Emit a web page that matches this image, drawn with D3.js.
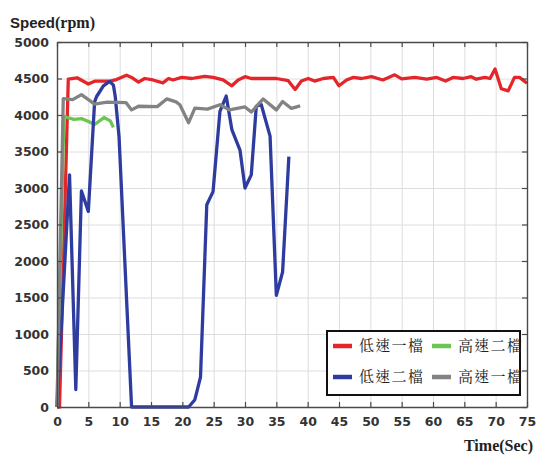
<!DOCTYPE html>
<html>
<head>
<meta charset="utf-8">
<script src="https://cdn.jsdelivr.net/npm/d3@7"></script>
<style>
  body { margin: 0; background: #fff; }
  svg { display: block; }
</style>
</head>
<body>
<div id="chart"></div>
<script>
// series data: time (sec) and speed (rpm)
const redTime = [0, 0.4, 1.8, 3.2, 5, 6.1, 8.5, 9.3, 11.1, 11.9, 13, 14, 15.3, 16.9, 17.8, 18.5, 19.9, 21.5, 22.8, 23.6, 24.9, 26.5, 27.9, 28.9, 30, 31, 35, 36.9, 38, 39, 40.1, 41.1, 42.5, 44.1, 45, 46.2, 47.3, 48.6, 50.2, 52, 53.9, 55, 57.1, 59, 60.6, 62, 63.2, 64.8, 66.1, 66.9, 68.3, 69.1, 69.9, 70.9, 72, 73, 73.8, 75];
const redRpm = [0, 0, 4490, 4510, 4425, 4465, 4465, 4480, 4545, 4515, 4450, 4500, 4480, 4440, 4500, 4480, 4515, 4500, 4520, 4530, 4515, 4480, 4400, 4480, 4525, 4500, 4500, 4470, 4350, 4465, 4500, 4465, 4500, 4515, 4400, 4480, 4515, 4500, 4525, 4480, 4550, 4495, 4515, 4490, 4515, 4465, 4515, 4500, 4525, 4490, 4515, 4500, 4630, 4360, 4330, 4515, 4515, 4435];

const greenTime = [0, 1.1, 2.7, 4, 5.2, 6, 7.5, 8.5, 9];
const greenRpm = [0, 3980, 3940, 3950, 3905, 3870, 3965, 3920, 3830];

const blueTime = [0, 2.0, 3.0, 3.9, 5.0, 6.0, 6.3, 7.4, 8.4, 9.0, 9.3, 9.9, 11.9, 21.0, 22.0, 22.9, 23.9, 24.9, 26.0, 27.0, 27.9, 29.2, 30.0, 31.0, 31.8, 32.6, 34.0, 35.0, 36.0, 37.0];
const blueRpm = [0, 3180, 240, 2960, 2680, 4180, 4250, 4400, 4460, 4410, 4250, 3700, 0, 0, 100, 410, 2770, 2950, 4050, 4260, 3800, 3520, 3000, 3180, 4120, 4140, 3710, 1530, 1850, 3430];

const grayTime = [0, 1, 2.5, 3.9, 6, 8, 11, 11.9, 13, 16, 17.5, 19, 19.6, 21, 22, 24, 26, 27.5, 30, 31, 32.9, 35, 36, 37.4, 38.8];
const grayRpm = [0, 4225, 4210, 4280, 4150, 4175, 4170, 4070, 4120, 4115, 4220, 4180, 4140, 3895, 4095, 4080, 4140, 4070, 4110, 4040, 4220, 4070, 4185, 4090, 4125];

const seriesNames = ["低速一檔", "高速二檔", "低速二檔", "高速一檔"];
const xTicks = [0, 5, 10, 15, 20, 25, 30, 35, 40, 45, 50, 55, 60, 65, 70, 75];
const yTicks = [0, 500, 1000, 1500, 2000, 2500, 3000, 3500, 4000, 4500, 5000];

const colors = ["#e4262a", "#6cc451", "#2f3c9f", "#838383"];

const series = [
  { name: seriesNames[0], color: colors[0], values: redTime.map((t, i) => ({ t, v: redRpm[i] })) },
  { name: seriesNames[1], color: colors[1], values: greenTime.map((t, i) => ({ t, v: greenRpm[i] })) },
  { name: seriesNames[2], color: colors[2], values: blueTime.map((t, i) => ({ t, v: blueRpm[i] })) },
  { name: seriesNames[3], color: colors[3], values: grayTime.map((t, i) => ({ t, v: grayRpm[i] })) }
];

const W = 538, H = 456;
const margin = { top: 42, right: 11, bottom: 49, left: 57 };
const width = W - margin.left - margin.right;
const height = H - margin.top - margin.bottom;

const xScale = d3.scaleLinear().domain([0, 75]).range([0, width]);
const yScale = d3.scaleLinear().domain([0, 5000]).range([height, 0]);

const svg = d3
  .select("#chart")
  .append("svg")
  .attr("width", W)
  .attr("height", H);

const g = svg
  .append("g")
  .attr("transform", "translate(" + margin.left + "," + margin.top + ")");

// grid

g.append("g")
  .attr("transform", "translate(0," + height + ")")
  .call(d3.axisBottom(xScale).tickValues(xTicks).tickSize(-height).tickFormat(""))
  .call(s => s.select(".domain").remove())
  .call(s => s.selectAll(".tick line").attr("stroke", "#dedede"));

g.append("g")
  .call(d3.axisLeft(yScale).tickValues(yTicks).tickSize(-width).tickFormat(""))
  .call(s => s.select(".domain").remove())
  .call(s => s.selectAll(".tick line").attr("stroke", "#dedede"));

// lines

const line = d3
  .line()
  .x(d => xScale(d.t))
  .y(d => yScale(d.v));

g.append("g")
  .selectAll("path")
  .data(series)
  .enter()
  .append("path")
  .attr("fill", "none")
  .attr("stroke", d => d.color)
  .attr("stroke-width", 3.3)
  .attr("stroke-linejoin", "round")
  .attr("d", d => line(d.values));

// axes, ticks inside like a boxed plot

const axisColor = "#4a4a4a";
const tickFont = "'DejaVu Sans', sans-serif";

const xAxis = g
  .append("g")
  .attr("transform", "translate(0," + height + ")")
  .call(d3.axisBottom(xScale).tickValues(xTicks).tickFormat(d3.format("d")).tickSizeInner(-5).tickSizeOuter(0).tickPadding(10));

const yAxis = g
  .append("g")
  .call(d3.axisLeft(yScale).tickValues(yTicks).tickFormat(d3.format("d")).tickSizeInner(-5).tickSizeOuter(0).tickPadding(8));

g.append("g")
  .call(d3.axisTop(xScale).tickValues(xTicks).tickSizeInner(-5).tickSizeOuter(0).tickFormat(""));

g.append("g")
  .attr("transform", "translate(" + width + ",0)")
  .call(d3.axisRight(yScale).tickValues(yTicks).tickSizeInner(-5).tickSizeOuter(0).tickFormat(""));

g.selectAll(".domain").attr("stroke", axisColor).attr("stroke-width", 1.4);
g.selectAll(".tick line").filter(function() { return this.getAttribute("stroke") !== "#dedede"; })
  .attr("stroke", axisColor).attr("stroke-width", 1.2);

[xAxis, yAxis].forEach(a =>
  a.selectAll(".tick text")
    .attr("fill", "#333")
    .style("font-family", tickFont)
    .style("font-weight", "bold")
    .style("font-size", "12.5px")
);

// axis titles

const yTitle = svg
  .append("text")
  .attr("x", 10)
  .attr("y", 28)
  .attr("fill", "#222")
  .style("font-weight", "bold")
  .style("font-size", "15px");

yTitle.append("tspan").style("font-family", "'Liberation Sans', Arial, sans-serif").text("Speed");
yTitle.append("tspan").style("font-family", "'Liberation Serif', 'Times New Roman', serif").style("font-size", "16px").text("(rpm)");

svg
  .append("text")
  .attr("x", 533)
  .attr("y", 451)
  .attr("text-anchor", "end")
  .attr("fill", "#222")
  .style("font-family", "'Liberation Serif', 'Times New Roman', serif")
  .style("font-weight", "bold")
  .style("font-size", "16px")
  .text("Time(Sec)");

// legend

const legend = svg.append("g").attr("transform", "translate(327,331)");

legend
  .append("rect")
  .attr("width", 193)
  .attr("height", 64)
  .attr("fill", "#fff")
  .attr("stroke", "#111")
  .attr("stroke-width", 2);

const legendPos = [
  { x: 6, y: 15 },
  { x: 105, y: 15 },
  { x: 6, y: 46 },
  { x: 105, y: 46 }
];

const items = legend
  .selectAll("g.item")
  .data(series)
  .enter()
  .append("g")
  .attr("class", "item")
  .attr("transform", (d, i) => "translate(" + legendPos[i].x + "," + legendPos[i].y + ")");

items
  .append("line")
  .attr("x1", 0)
  .attr("x2", 19)
  .attr("stroke", d => d.color)
  .attr("stroke-width", 4.5);

items
  .append("text")
  .attr("x", 26)
  .attr("dy", "0.36em")
  .attr("fill", "#222")
  .style("font-family", "'Noto Serif CJK TC', 'Noto Sans CJK TC', sans-serif")
  .style("font-size", "15px")
  .style("letter-spacing", "1.3px")
  .text(d => d.name);
</script>
</body>
</html>
